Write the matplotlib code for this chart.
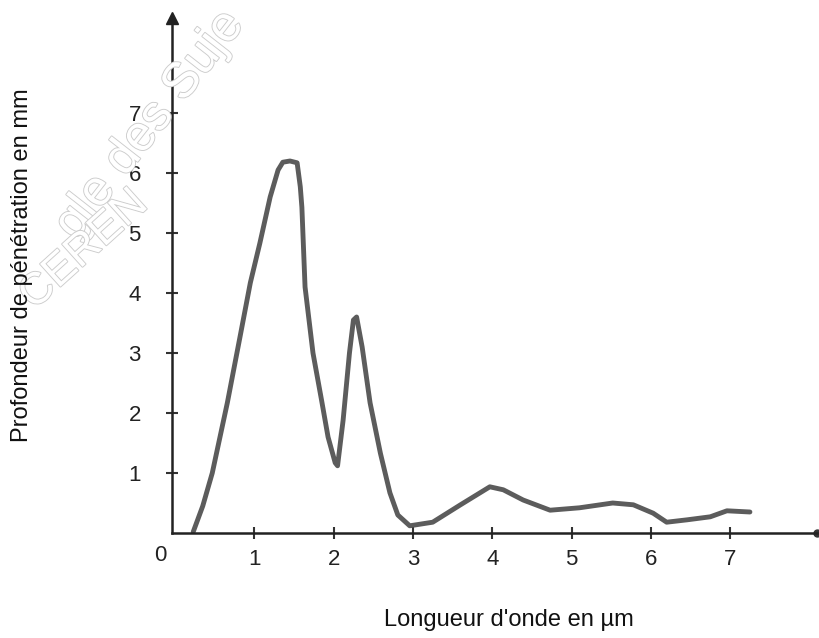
import matplotlib
matplotlib.use('Agg')
from matplotlib import pyplot as plt
import matplotlib.patheffects as pe

# wavelength (um) and penetration depth (mm)
wavelength = [0.23, 0.35, 0.47, 0.66, 0.82, 0.95, 1.07, 1.20, 1.30, 1.36, 1.45, 1.54,
              1.58, 1.60, 1.64, 1.74, 1.85, 1.93, 2.02, 2.05, 2.12, 2.20, 2.25, 2.29,
              2.36, 2.46, 2.59, 2.71, 2.81, 2.96, 3.25, 3.60, 3.97, 4.14, 4.39, 4.73,
              5.10, 5.52, 5.78, 6.03, 6.20, 6.46, 6.75, 6.96, 7.25]
depth = [0.02, 0.45, 1.00, 2.17, 3.27, 4.17, 4.83, 5.60, 6.05, 6.18, 6.20, 6.17,
         5.77, 5.43, 4.10, 3.00, 2.20, 1.60, 1.17, 1.12, 1.88, 3.00, 3.55, 3.60,
         3.10, 2.17, 1.33, 0.67, 0.30, 0.12, 0.18, 0.47, 0.77, 0.72, 0.55, 0.38,
         0.42, 0.50, 0.47, 0.33, 0.18, 0.22, 0.27, 0.37, 0.35]

x_ticks = [1, 2, 3, 4, 5, 6, 7]
y_ticks = [1, 2, 3, 4, 5, 6, 7]

W, H = 819, 638
fig = plt.figure(figsize=(W / 100, H / 100), dpi=100)
fig.patch.set_facecolor('white')

# axes box in pixels: y axis at x=172, x axis at y=533, arrows at x=817 / y=18
left, right, bottom, top = 172, 817, 533, 18
ax = fig.add_axes([left / W, (H - bottom) / H, (right - left) / W, (bottom - top) / H])
ax.set_xlim((left - 175) / 79.3, (right - 175) / 79.3)
ax.set_ylim(0, (bottom - top) / 60.0)

font = ['Liberation Sans', 'DejaVu Sans']

for s in ['top', 'right']:
    ax.spines[s].set_visible(False)
for s in ['left', 'bottom']:
    ax.spines[s].set_color('#222222')
    ax.spines[s].set_linewidth(1.8)

# arrow heads at axis ends
ax.plot(1, 0, marker='o', color='#333333', markersize=5,
        transform=ax.transAxes, clip_on=False)
ax.plot(0, 1, marker='^', color='#222222', markersize=8,
        transform=ax.transAxes, clip_on=False)

ax.set_xticks(x_ticks)
ax.set_yticks(y_ticks)
ax.tick_params(direction='inout', length=9, width=1.5, color='#333333',
               labelsize=16, labelcolor='#222222')
ax.tick_params(axis='x', pad=7)
ax.tick_params(axis='y', pad=18)
for lab in ax.get_xticklabels() + ax.get_yticklabels():
    lab.set_family(font)

ax.text(-0.19, -0.2, '0', ha='center', va='top', fontsize=16, color='#222222',
        family=font, transform=ax.transData, clip_on=False)

ax.plot(wavelength, depth, color='#4a4a4a', linewidth=3.5, alpha=0.9,
        solid_capstyle='round', solid_joinstyle='round')

fig.text(509 / W, 1 - 620 / H, "Longueur d'onde en µm", ha='center', va='center',
         fontsize=17, color='#111111', family=font)
fig.text(22 / W, 1 - 265 / H, 'Profondeur de pénétration en mm', ha='center',
         va='center', rotation=90, fontsize=17, color='#111111', family=font)

# faint outlined watermark of the scan
wm = dict(color='white', family=font,
          path_effects=[pe.withStroke(linewidth=1.3, foreground='#cccccc')],
          ha='center', va='center', zorder=0)
fig.text(150 / W, 1 - 125 / H, 'gle des Suje', rotation=52, fontsize=36, **wm)
fig.text(84 / W, 1 - 250 / H, 'CEREN', rotation=42, fontsize=32, **wm)

fig.savefig('out.png', dpi=100, facecolor='white')
